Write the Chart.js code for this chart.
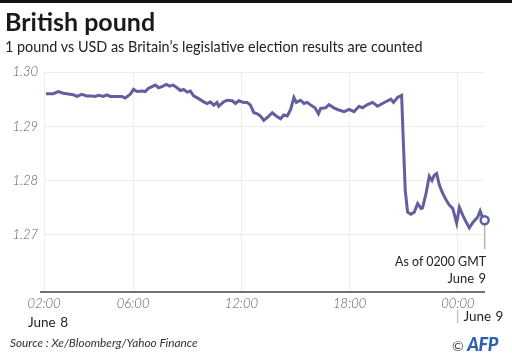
<!DOCTYPE html>
<html>
<head>
<meta charset="utf-8">
<script src="https://cdn.jsdelivr.net/npm/chart.js@4/dist/chart.umd.min.js"></script>
<style>
  html, body { margin: 0; padding: 0; background: #fff; }
  #wrap { position: relative; width: 512px; height: 357px; overflow: hidden; font-family: Lato, "Noto Sans", sans-serif; }
  #c { position: absolute; left: 0; top: 0; }
  .t { position: absolute; white-space: nowrap; line-height: 1; }
  #bar { position: absolute; left: 0; top: 0; width: 512px; height: 3px; background: #111; }
  #title { left: 5px; top: 9px; font-size: 25px; font-weight: 700; color: #1a1a1a; }
  #sub { left: 5px; top: 40px; font-size: 14.4px; color: #222; }
  #asof { right: 26px; top: 254px; font-size: 12.4px; color: #222; text-align: right; line-height: 16px; }
  #asof span { font-size: 13px; word-spacing: 1px; }
  #j8 { left: 28px; top: 316px; font-size: 13.5px; color: #222; word-spacing: 1px; }
  #j9 { left: 456px; top: 310px; font-size: 13.5px; color: #222; word-spacing: 1px; }
  #j9 span { color: #aaa; margin-right: 4px; }
  #src { left: 10px; top: 337px; font-size: 11.8px; font-style: italic; color: #333; }
  #afp { left: 452px; top: 335px; font-size: 14px; color: #444; }
  #afp b { color: #2a5fae; font-style: italic; font-weight: 900; font-size: 18px; letter-spacing: -0.5px; }
</style>
</head>
<body>
<div id="wrap">
  <canvas id="c" width="512" height="357"></canvas>
  <div id="bar"></div>
  <div class="t" id="title">British pound</div>
  <div class="t" id="sub">1 pound vs USD as Britain’s legislative election results are counted</div>
  <div class="t" id="asof">As of 0200 GMT<br><span>June 9</span></div>
  <div class="t" id="j8">June 8</div>
  <div class="t" id="j9"><span>|</span>June 9</div>
  <div class="t" id="src">Source : Xe/Bloomberg/Yahoo Finance</div>
  <div class="t" id="afp">© <b>AFP</b></div>
</div>
<script>
// Hours since 00:00 June 8 (values above 24 are June 9)
const hours = [
  1.17, 1.58, 1.85, 2.13, 2.50, 2.69, 2.88, 3.15, 3.43, 3.71,
  3.89, 4.08, 4.35, 4.54, 4.73, 5.10, 5.38, 5.56, 5.84, 6.02,
  6.21, 6.49, 6.67, 6.85, 7.04, 7.23, 7.41, 7.60, 7.84, 8.02,
  8.21, 8.43, 8.62, 8.80, 8.99, 9.17, 9.35, 9.63, 9.91, 10.10,
  10.28, 10.47, 10.65, 10.74, 11.02, 11.21, 11.49, 11.67, 11.85, 12.13,
  12.32, 12.50, 12.69, 12.88, 13.06, 13.24, 13.49, 13.71, 13.93, 14.17,
  14.35, 14.54, 14.73, 14.91, 15.04, 15.28, 15.47, 15.65, 15.84, 16.08,
  16.27, 16.39, 16.67, 16.85, 17.12, 17.32, 17.69, 17.97, 18.24, 18.52,
  18.71, 18.99, 19.27, 19.54, 19.82, 20.10, 20.28, 20.43, 20.65, 20.88,
  20.97, 21.08, 21.21, 21.39, 21.58, 21.77, 21.95, 22.04, 22.23, 22.41,
  22.56, 22.69, 22.82, 22.97, 23.15, 23.34, 23.52, 23.71, 23.93, 24.08,
  24.27, 24.45, 24.63, 24.85, 25.10, 25.23, 25.34, 25.48
];
// GBP/USD rate
const rates = [
  1.2960, 1.2960, 1.2964, 1.2961, 1.2959, 1.2958, 1.2955, 1.2959, 1.2956, 1.2956,
  1.2955, 1.2957, 1.2955, 1.2958, 1.2955, 1.2955, 1.2955, 1.2952, 1.2959, 1.2968,
  1.2964, 1.2965, 1.2964, 1.2970, 1.2973, 1.2976, 1.2971, 1.2973, 1.2977, 1.2974,
  1.2976, 1.2971, 1.2966, 1.2968, 1.2963, 1.2965, 1.2956, 1.2951, 1.2945, 1.2942,
  1.2945, 1.2939, 1.2944, 1.2937, 1.2945, 1.2948, 1.2947, 1.2942, 1.2947, 1.2944,
  1.2944, 1.2939, 1.2925, 1.2923, 1.2919, 1.2911, 1.2918, 1.2925, 1.2919, 1.2914,
  1.2921, 1.2919, 1.2931, 1.2953, 1.2944, 1.2948, 1.2942, 1.2944, 1.2939, 1.2934,
  1.2923, 1.2933, 1.2934, 1.2940, 1.2934, 1.2931, 1.2927, 1.2931, 1.2927, 1.2937,
  1.2934, 1.2940, 1.2944, 1.2937, 1.2942, 1.2947, 1.2950, 1.2944, 1.2953, 1.2957,
  1.2875, 1.2782, 1.2742, 1.2738, 1.2742, 1.2758, 1.2749, 1.2750, 1.2776, 1.2808,
  1.2800, 1.2810, 1.2813, 1.2792, 1.2777, 1.2765, 1.2755, 1.2749, 1.2722, 1.2751,
  1.2736, 1.2724, 1.2713, 1.2724, 1.2733, 1.2744, 1.2734, 1.2727
];
const xTickValues = [1.06, 6, 12, 18, 24];
const xTickLabels = ['02:00', '06:00', '12:00', '18:00', '00:00'];
const yTickValues = [1.27, 1.28, 1.29, 1.30];
const yTickLabels = ['1.27', '1.28', '1.29', '1.30'];

const lineColor = '#625f9f';
const lastIdx = rates.length - 1;

const decorations = {
  id: 'decorations',
  beforeDatasetsDraw(chart) {
    const xs = chart.scales.x, ys = chart.scales.y, a = chart.chartArea;
    const px = xs.getPixelForValue(hours[lastIdx]);
    const py = ys.getPixelForValue(rates[lastIdx]);
    const ctx = chart.ctx;
    ctx.save();
    ctx.strokeStyle = '#b5b5b5';
    ctx.lineWidth = 1.5;
    ctx.beginPath();
    ctx.moveTo(px, py);
    ctx.lineTo(px, 249);
    ctx.stroke();
    // x axis baseline, slightly overhanging the left edge
    ctx.strokeStyle = '#444';
    ctx.lineWidth = 1.5;
    ctx.beginPath();
    ctx.moveTo(a.left - 4, a.bottom);
    ctx.lineTo(a.right, a.bottom);
    ctx.stroke();
    ctx.restore();
  }
};

const tickFont = { family: 'Lato', size: 13, style: 'italic', weight: 300 };

new Chart(document.getElementById('c'), {
  type: 'line',
  data: {
    datasets: [{
      data: hours.map((h, i) => ({ x: h, y: rates[i] })),
      borderColor: lineColor,
      borderWidth: 3,
      tension: 0,
      fill: false,
      pointRadius: ctx => ctx.dataIndex === lastIdx ? 4 : 0,
      pointHoverRadius: 0,
      pointBackgroundColor: '#ffffff',
      pointBorderColor: lineColor,
      pointBorderWidth: 2.5,
      clip: false
    }]
  },
  options: {
    responsive: false,
    animation: false,
    devicePixelRatio: 1,
    layout: { padding: { left: 0, top: 72, right: 27, bottom: 0 } },
    plugins: { legend: { display: false }, tooltip: { enabled: false }, title: { display: false } },
    scales: {
      x: {
        type: 'linear',
        min: 1.06,
        max: 25.5,
        afterBuildTicks: s => { s.ticks = xTickValues.map(v => ({ value: v })); },
        afterFit: s => { s.height = 65; },
        grid: { color: '#ededed', lineWidth: 1, drawTicks: false },
        border: { display: false },
        ticks: {
          padding: 4,
          color: '#5a5a5a',
          font: tickFont,
          maxRotation: 0,
          callback: (v, i) => xTickLabels[i]
        }
      },
      y: {
        min: 1.2595,
        max: 1.30,
        afterBuildTicks: s => { s.ticks = yTickValues.map(v => ({ value: v })); },
        afterFit: s => { s.width = 44; },
        grid: { color: '#ededed', lineWidth: 1, drawTicks: false },
        border: { display: false },
        ticks: {
          padding: 6,
          color: '#5a5a5a',
          font: tickFont,
          callback: (v, i) => yTickLabels[i]
        }
      }
    }
  },
  plugins: [decorations]
});
</script>
</body>
</html>
